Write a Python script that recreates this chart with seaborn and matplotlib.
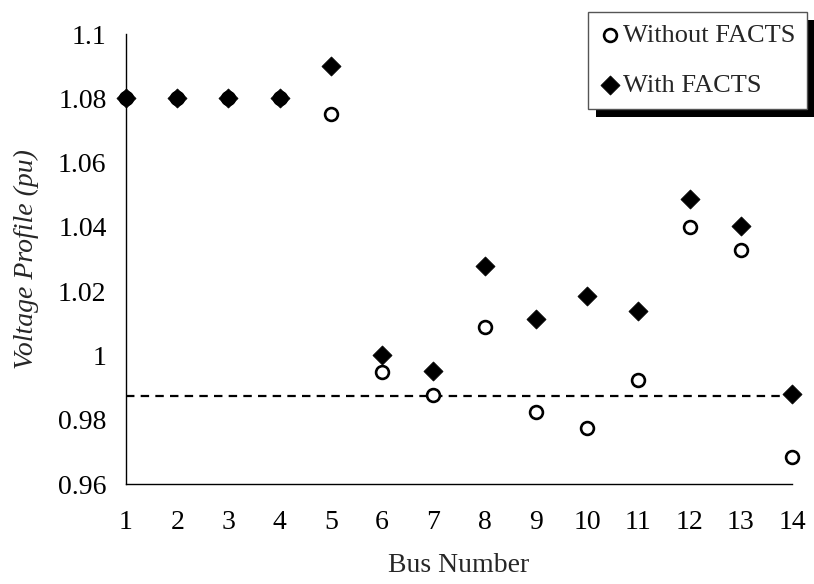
import numpy as np
import matplotlib.pyplot as plt
import seaborn as sns
from matplotlib.patches import Rectangle
from matplotlib.ticker import FuncFormatter

bus = list(range(1, 15))
without_facts = [1.08, 1.08, 1.08, 1.08, 1.075, 0.995, 0.9876, 1.0087, 0.9823,
                 0.9775, 0.9923, 1.0399, 1.0328, 0.9683]
with_facts = [1.08, 1.08, 1.08, 1.08, 1.090, 1.000, 0.9951, 1.0277, 1.0114,
              1.0184, 1.0137, 1.0488, 1.0402, 0.988]
limit_level = 0.9875
y_ticks = [0.96, 0.98, 1.0, 1.02, 1.04, 1.06, 1.08, 1.1]

sns.set_style('white')
plt.rcParams['font.family'] = ['Liberation Serif', 'DejaVu Serif']

fig = plt.figure(figsize=(8.14, 5.84), dpi=100)
ax = fig.add_axes([126 / 814, 1 - 484 / 584, (792 - 126) / 814, (484 - 34) / 584])

ax.axhline(limit_level, color='black', lw=1.6, ls=(0, (3.8, 2.8)), zorder=1)

sns.scatterplot(x=bus, y=without_facts, marker='o', s=85, facecolor='white',
                edgecolor='black', linewidth=1.9, ax=ax, zorder=3, clip_on=False,
                label='Without FACTS')
sns.scatterplot(x=bus, y=with_facts, marker='D', s=95, color='black',
                edgecolor='black', linewidth=0.5, ax=ax, zorder=4, clip_on=False,
                label='With FACTS')

ax.set_xlim(1, 14)
ax.set_ylim(0.96, 1.1)
ax.set_xticks(bus)
ax.set_yticks(y_ticks)
ax.yaxis.set_major_formatter(FuncFormatter(lambda v, p: '%g' % round(v, 3)))
ax.tick_params(axis='both', direction='out', length=6, width=1, color='black',
               labelsize=20, labelcolor='black')
ax.tick_params(axis='x', pad=13)
ax.tick_params(axis='y', pad=8)

for side in ['top', 'right']:
    ax.spines[side].set_visible(False)
for side in ['left', 'bottom']:
    ax.spines[side].set_color('black')
    ax.spines[side].set_linewidth(1.0)

ax.set_xlabel('Bus Number', fontsize=20, labelpad=13)
ax.set_ylabel('Voltage Profile (pu)', fontsize=20, style='italic', labelpad=14)

leg = ax.legend(loc='upper right', bbox_to_anchor=(807 / 814, 1 - 12 / 584),
                bbox_transform=fig.transFigure, borderaxespad=0, fancybox=False,
                frameon=True, fontsize=19, handletextpad=0.15, handlelength=0.7,
                borderpad=0.45, labelspacing=1.0, markerscale=1.0)
leg.get_frame().set_edgecolor('#555555')
leg.get_frame().set_linewidth(1.0)
leg.get_frame().set_alpha(1)

# black drop shadow behind the legend box
fig.canvas.draw()
bb = leg.get_window_extent()
shadow = Rectangle((bb.x0 + 8, bb.y0 - 8), bb.width, bb.height, transform=None,
                   facecolor='black', edgecolor='none', zorder=4.5, clip_on=False)
ax.add_artist(shadow)

fig.savefig('out.png', dpi=100)
